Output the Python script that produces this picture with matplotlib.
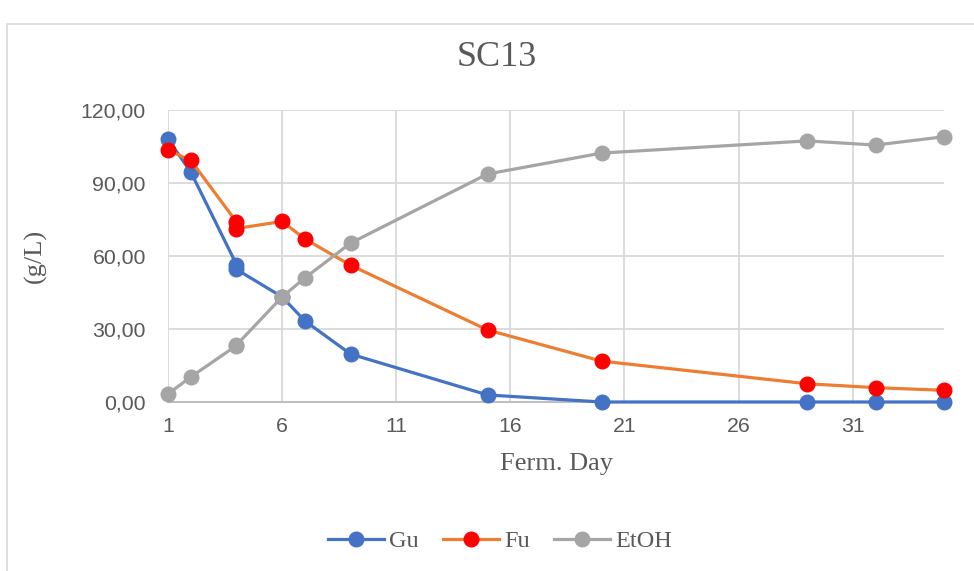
import matplotlib.pyplot as plt
from matplotlib.patches import Rectangle
from matplotlib.ticker import FuncFormatter

days = [1, 2, 4, 4, 6, 7, 9, 15, 20, 29, 32, 35]
gu = [108.0, 94.5, 56.5, 54.5, 43.2, 33.3, 19.7, 2.9, 0.0, 0.0, 0.0, 0.0]
fu = [103.5, 99.3, 74.0, 71.3, 74.2, 67.0, 56.2, 29.6, 16.8, 7.5, 5.9, 4.8]
etoh = [3.3, 10.3, 23.2, 23.4, 43.2, 51.0, 65.3, 93.7, 102.3, 107.3, 105.6, 109.0]

x_ticks = [1, 6, 11, 16, 21, 26, 31]
y_ticks = [0, 30, 60, 90, 120]

serif = 'Liberation Serif'
grey_txt = '#595959'

fig = plt.figure(figsize=(9.74, 5.71), dpi=100)
fig.patches.append(Rectangle((7 / 974, -0.05), 1.1, 1 - 24 / 571 + 0.05,
                             transform=fig.transFigure, fill=False,
                             edgecolor='#D9D9D9', linewidth=1.2))

ax = fig.add_axes([168 / 974, 1 - 402 / 571, 776 / 974, 292 / 571])

ax.plot(days, gu, color='#4472C4', lw=2.3, marker='o', ms=10.5,
        mfc='#4472C4', mec='#4472C4', label='Gu', zorder=3, clip_on=False)
ax.plot(days, fu, color='#ED7D31', lw=2.3, marker='o', ms=10.5,
        mfc='#FF0000', mec='#FF0000', label='Fu', zorder=4, clip_on=False)
ax.plot(days, etoh, color='#A5A5A5', lw=2.3, marker='o', ms=10.5,
        mfc='#A5A5A5', mec='#A5A5A5', label='EtOH', zorder=5, clip_on=False)

ax.set_xlim(1, 35)
ax.set_ylim(0, 120)
ax.set_xticks(x_ticks)
ax.set_yticks(y_ticks)
ax.yaxis.set_major_formatter(FuncFormatter(lambda v, p: f'{v:.2f}'.replace('.', ',')))

ax.grid(True, color='#D9D9D9', lw=1.3, zorder=0)
ax.set_axisbelow(True)
for side in ['top', 'right', 'left']:
    ax.spines[side].set_visible(False)
ax.spines['bottom'].set_color('#BFBFBF')
ax.spines['bottom'].set_linewidth(1.5)

ax.tick_params(length=0, labelsize=15.3, labelcolor=grey_txt)
ax.tick_params(axis='y', pad=16)
ax.tick_params(axis='x', pad=11)
for lab in ax.get_xticklabels() + ax.get_yticklabels():
    lab.set_fontfamily('Liberation Sans')

ax.set_xlabel('Ferm. Day', fontfamily=serif, fontsize=19, color=grey_txt, labelpad=12)
ax.set_ylabel('(g/L)', fontfamily=serif, fontsize=19, color=grey_txt, labelpad=24)
fig.text(497 / 974, 1 - 57 / 571, 'SC13', ha='center', va='center',
         fontfamily=serif, fontsize=26, color=grey_txt)

leg = fig.legend(loc='center', bbox_to_anchor=(500 / 974, 1 - 541 / 571), ncol=3,
                 frameon=False, handlelength=2.3, columnspacing=1.0, handletextpad=0.2,
                 markerscale=1.0, prop={'family': serif, 'size': 17.5})
for t in leg.get_texts():
    t.set_color(grey_txt)

fig.savefig('out.png', dpi=100)
